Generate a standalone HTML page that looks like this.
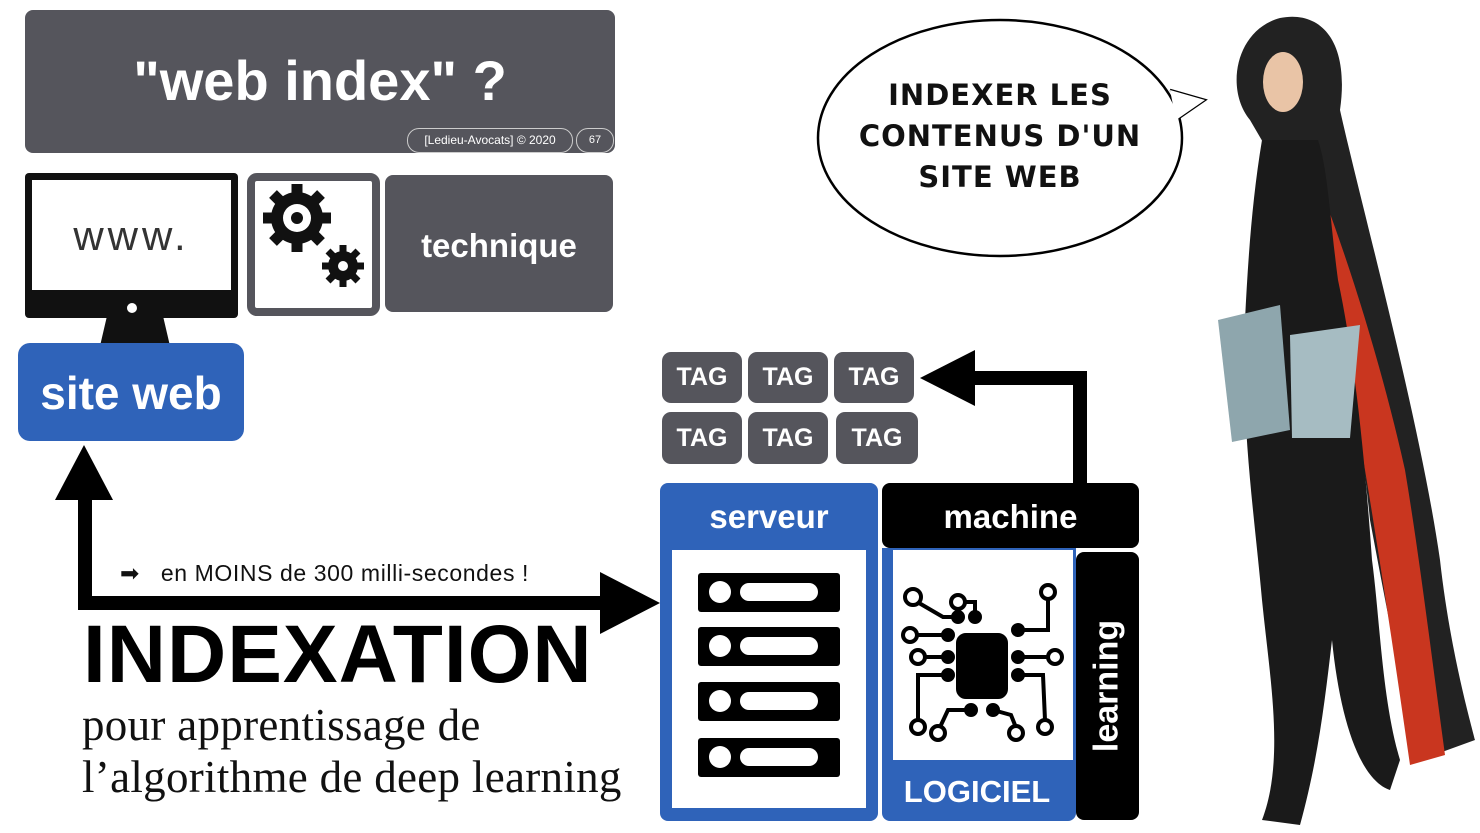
<!DOCTYPE html>
<html><head><meta charset="utf-8"><style>
body{margin:0;width:1480px;height:833px;background:#fff;position:relative;overflow:hidden;font-family:"Liberation Sans",sans-serif}
.a{position:absolute;box-sizing:border-box}
.g{background:#55555c;border-radius:8px;color:#fff;font-weight:bold;display:flex;align-items:center;justify-content:center}
.tag{font-size:25px;border-radius:9px}
</style></head><body>
<div class="a g" style="left:25px;top:10px;width:590px;height:143px;font-size:56px;padding-bottom:2px">"web index" ?</div>
<div class="a" style="left:407px;top:128px;width:166px;height:25px;border:1px solid #ccc;border-radius:12px;color:#fff;font-size:12px;text-align:center;line-height:23px;background:#55555c">[Ledieu-Avocats] © 2020</div>
<div class="a" style="left:576px;top:128px;width:38px;height:25px;border:1px solid #ccc;border-radius:12px;color:#fff;font-size:11px;text-align:center;line-height:23px;background:#55555c">67</div>

<div class="a" style="left:25px;top:173px;width:213px;height:145px;background:#111;border-radius:4px"></div>
<div class="a" style="left:32px;top:180px;width:199px;height:110px;background:#fff;font-size:42px;color:#333;text-align:center;line-height:112px;letter-spacing:4px">www.</div>
<div class="a" style="left:127px;top:303px;width:10px;height:10px;border-radius:50%;background:#fff"></div>
<svg class="a" style="left:95px;top:316px" width="80" height="30"><polygon points="12,0 68,0 75,30 5,30" fill="#111"/></svg>

<div class="a" style="left:247px;top:173px;width:133px;height:143px;border:8px solid #55555c;border-radius:10px;background:#fff"></div>
<svg class="a" style="left:255px;top:181px" width="117" height="127">
<g fill="#111"><circle cx="42" cy="37" r="26"/>
<g stroke="#111" stroke-width="11"><line x1="42" y1="3" x2="42" y2="71"/><line x1="8" y1="37" x2="76" y2="37"/><line x1="18" y1="13" x2="66" y2="61"/><line x1="66" y1="13" x2="18" y2="61"/></g>
<circle cx="42" cy="37" r="14" fill="#fff"/><circle cx="42" cy="37" r="6"/>
<circle cx="88" cy="85" r="15"/>
<g stroke="#111" stroke-width="7"><line x1="88" y1="64" x2="88" y2="106"/><line x1="67" y1="85" x2="109" y2="85"/><line x1="73" y1="70" x2="103" y2="100"/><line x1="103" y1="70" x2="73" y2="100"/></g>
<circle cx="88" cy="85" r="5" fill="#fff"/></g></svg>
<div class="a g" style="left:385px;top:175px;width:228px;height:137px;font-size:33px;padding-top:4px">technique</div>

<div class="a" style="left:18px;top:343px;width:226px;height:98px;background:#2f63b9;border-radius:12px;color:#fff;font-weight:bold;font-size:46px;text-align:center;line-height:100px">site web</div>

<svg class="a" style="left:0;top:0" width="1480" height="833">
<polyline points="85,500 85,603 605,603" fill="none" stroke="#000" stroke-width="14"/>
<polygon points="55,500 113,500 84,445" fill="#000"/>
<polygon points="600,572 660,603 600,634" fill="#000"/>
<polyline points="1080,485 1080,378 970,378" fill="none" stroke="#000" stroke-width="14"/>
<polygon points="975,350 975,406 920,378" fill="#000"/>
<path d="M1170,90 L1205,100 L1176,120" fill="#fff" stroke="#000" stroke-width="2.5"/>
<ellipse cx="1000" cy="138" rx="182" ry="118" fill="#fff" stroke="#000" stroke-width="2.5"/>
<path d="M1170,90 L1205,100 L1176,120" fill="#fff" stroke="none"/>
<!-- woman -->
<path d="M1250,120 C1225,90 1235,30 1280,18 C1320,10 1350,40 1340,110 C1360,200 1420,420 1440,560 C1450,650 1470,720 1475,740 L1420,760 C1400,680 1385,600 1370,520 C1360,420 1340,320 1320,240 Z" fill="#222"/>
<path d="M1325,200 C1355,280 1385,380 1405,470 C1420,560 1432,660 1445,755 L1410,765 C1395,660 1380,560 1365,470 C1350,380 1335,300 1320,240 Z" fill="#c9361f"/>
<path d="M1262,140 C1252,200 1248,260 1245,320 C1240,420 1255,520 1262,600 C1270,680 1285,760 1262,820 L1300,825 C1318,760 1325,700 1332,640 C1340,720 1360,780 1390,790 L1400,760 C1382,700 1380,620 1372,560 C1365,460 1355,360 1338,280 C1330,220 1328,170 1318,140 Z" fill="#1a1a1a"/>
<ellipse cx="1283" cy="82" rx="20" ry="30" fill="#e9c4a6"/>
<path d="M1218,320 L1280,305 L1290,430 L1232,442 Z" fill="#8ea6ad"/>
<path d="M1290,335 L1360,325 L1350,438 L1292,438 Z" fill="#a6bcc2"/>
</svg>

<div class="a" style="left:120px;top:560px;font-size:23px;color:#111;white-space:nowrap;letter-spacing:0.6px">➡&nbsp;&nbsp; en MOINS de 300 milli-secondes !</div>
<div class="a" style="left:83px;top:608px;font-size:82px;font-weight:bold;color:#000;letter-spacing:1px;white-space:nowrap">INDEXATION</div>
<div class="a" style="left:82px;top:699px;font-family:'Liberation Serif',serif;font-size:45px;line-height:52px;color:#111;white-space:nowrap;letter-spacing:0.3px">pour apprentissage de<br>l’algorithme de deep learning</div>

<div class="a" style="left:820px;top:75px;width:360px;text-align:center;font-family:'DejaVu Sans',sans-serif;font-weight:bold;font-size:29px;line-height:41px;color:#111;letter-spacing:1px">INDEXER LES<br>CONTENUS D'UN<br>SITE WEB</div>

<div class="a g tag" style="left:662px;top:352px;width:80px;height:51px">TAG</div>
<div class="a g tag" style="left:748px;top:352px;width:80px;height:51px">TAG</div>
<div class="a g tag" style="left:834px;top:352px;width:80px;height:51px">TAG</div>
<div class="a g tag" style="left:662px;top:412px;width:80px;height:52px">TAG</div>
<div class="a g tag" style="left:748px;top:412px;width:80px;height:52px">TAG</div>
<div class="a g tag" style="left:836px;top:412px;width:82px;height:52px">TAG</div>

<div class="a" style="left:660px;top:483px;width:218px;height:338px;background:#2f63b9;border-radius:8px"></div>
<div class="a" style="left:660px;top:483px;width:218px;height:65px;color:#fff;font-weight:bold;font-size:33px;text-align:center;line-height:67px">serveur</div>
<div class="a" style="left:672px;top:550px;width:194px;height:258px;background:#fff"></div>
<svg class="a" style="left:698px;top:573px" width="144" height="210">
<g><rect x="0" y="0" width="142" height="39" rx="3" fill="#000"/><circle cx="22" cy="19" r="11" fill="#fff"/><rect x="42" y="10" width="78" height="18" rx="9" fill="#fff"/></g>
<g transform="translate(0,54)"><rect x="0" y="0" width="142" height="39" rx="3" fill="#000"/><circle cx="22" cy="19" r="11" fill="#fff"/><rect x="42" y="10" width="78" height="18" rx="9" fill="#fff"/></g>
<g transform="translate(0,109)"><rect x="0" y="0" width="142" height="39" rx="3" fill="#000"/><circle cx="22" cy="19" r="11" fill="#fff"/><rect x="42" y="10" width="78" height="18" rx="9" fill="#fff"/></g>
<g transform="translate(0,165)"><rect x="0" y="0" width="142" height="39" rx="3" fill="#000"/><circle cx="22" cy="19" r="11" fill="#fff"/><rect x="42" y="10" width="78" height="18" rx="9" fill="#fff"/></g>
</svg>

<div class="a" style="left:882px;top:483px;width:257px;height:65px;background:#000;border-radius:8px;color:#fff;font-weight:bold;font-size:33px;text-align:center;line-height:67px">machine</div>
<div class="a" style="left:882px;top:548px;width:194px;height:273px;background:#2f63b9;border-radius:0 0 8px 8px"></div>
<div class="a" style="left:893px;top:550px;width:180px;height:210px;background:#fff"></div>
<div class="a" style="left:882px;top:760px;width:190px;height:60px;color:#fff;font-weight:bold;font-size:31px;text-align:center;line-height:64px">LOGICIEL</div>
<div class="a" style="left:1076px;top:552px;width:63px;height:268px;background:#000;border-radius:8px"></div>
<div class="a" style="left:1107px;top:686px;transform:translate(-50%,-50%) rotate(-90deg);color:#fff;font-weight:bold;font-size:34px;white-space:nowrap">learning</div>
<svg class="a" style="left:893px;top:575px" width="180" height="180" fill="none" stroke="#000" stroke-width="4">
<rect x="65" y="60" width="48" height="62" rx="8" fill="#000"/>
<circle cx="20" cy="22" r="8"/><path d="M26,28 L50,42 L65,42"/><circle cx="65" cy="42" r="5" fill="#000"/>
<circle cx="65" cy="27" r="7"/><path d="M72,27 L82,27 L82,42"/><circle cx="82" cy="42" r="5" fill="#000"/>
<circle cx="155" cy="17" r="7"/><path d="M155,24 L155,55 L125,55"/><circle cx="125" cy="55" r="5" fill="#000"/>
<circle cx="17" cy="60" r="7"/><path d="M24,60 L55,60"/><circle cx="55" cy="60" r="5" fill="#000"/>
<circle cx="25" cy="82" r="7"/><path d="M32,82 L55,82"/><circle cx="55" cy="82" r="5" fill="#000"/>
<circle cx="162" cy="82" r="7"/><path d="M155,82 L125,82"/><circle cx="125" cy="82" r="5" fill="#000"/>
<path d="M55,100 L25,100 L25,145"/><circle cx="25" cy="152" r="7"/><circle cx="55" cy="100" r="5" fill="#000"/>
<path d="M125,100 L150,100 L152,145"/><circle cx="152" cy="152" r="7"/><circle cx="125" cy="100" r="5" fill="#000"/>
<path d="M78,135 L55,135 L48,150"/><circle cx="45" cy="158" r="7"/><circle cx="78" cy="135" r="5" fill="#000"/>
<path d="M100,135 L118,140 L122,150"/><circle cx="123" cy="158" r="7"/><circle cx="100" cy="135" r="5" fill="#000"/>
</svg>
</body></html>
